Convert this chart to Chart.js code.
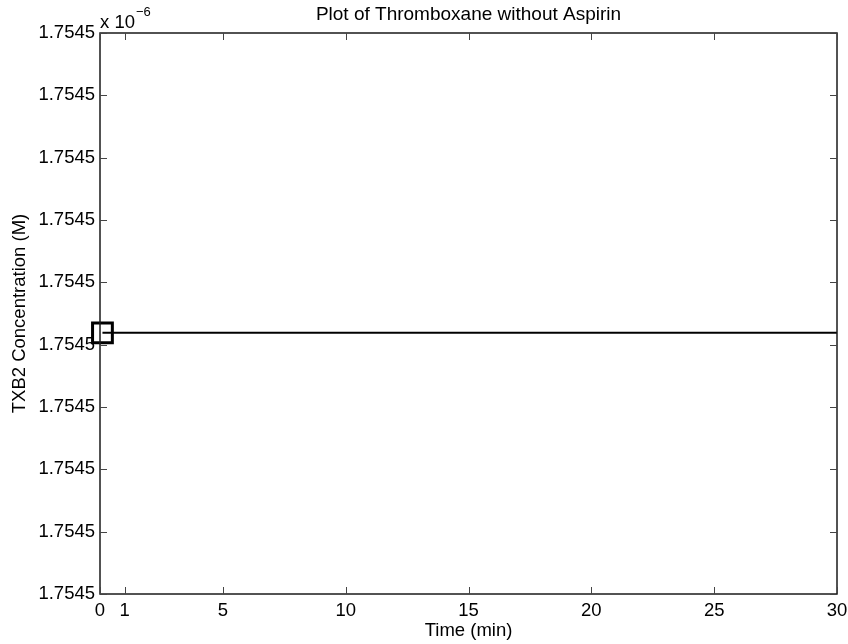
<!DOCTYPE html>
<html lang="en">
<head>
    <meta charset="UTF-8">
    <title>Plot of Thromboxane without Aspirin</title>
    <style>
        body { margin: 0; background: white; }
        #wrap { width: 848px; height: 644px; }
    </style>
    <script src="https://cdn.jsdelivr.net/npm/chart.js"></script>
</head>
<body>
    <div id="wrap"><canvas id="myChart" width="848" height="644"></canvas></div>
    <script>
        // data (y in tick steps above the lowest tick)
        const timeMin = [0.1, 30];
        const txb2 = [4.19, 4.19];
        const xTicks = [0, 1, 5, 10, 15, 20, 25, 30];
        const yTickLabels = ['1.7545', '1.7545', '1.7545', '1.7545', '1.7545',
                             '1.7545', '1.7545', '1.7545', '1.7545', '1.7545'];
        const markerRadius = [14, 0];

        const FONT = 'Liberation Sans, Arial, Helvetica, sans-serif';
        const FS = 18.5;

        // MATLAB-like box with inward ticks, title and exponent
        const boxPlugin = {
            id: 'box',
            afterDraw(chart) {
                const ctx = chart.ctx;
                const a = chart.chartArea;
                const xs = chart.scales.x, ys = chart.scales.y;
                ctx.save();
                ctx.strokeStyle = '#1a1a1a';
                ctx.lineWidth = 1.5;
                ctx.strokeRect(a.left, a.top, a.right - a.left, a.bottom - a.top);
                ctx.lineWidth = 1;
                ctx.strokeStyle = '#444';
                ctx.beginPath();
                xTicks.forEach(v => {
                    const px = Math.round(xs.getPixelForValue(v)) + 0.5;
                    ctx.moveTo(px, a.bottom); ctx.lineTo(px, a.bottom - 7);
                    ctx.moveTo(px, a.top); ctx.lineTo(px, a.top + 7);
                });
                yTickLabels.forEach((_, i) => {
                    const py = Math.round(ys.getPixelForValue(i)) + 0.5;
                    ctx.moveTo(a.left, py); ctx.lineTo(a.left + 7, py);
                    ctx.moveTo(a.right, py); ctx.lineTo(a.right - 7, py);
                });
                ctx.stroke();

                ctx.fillStyle = '#000';
                ctx.textBaseline = 'alphabetic';
                ctx.textAlign = 'center';
                ctx.font = '19px ' + FONT;
                ctx.fillText('Plot of Thromboxane without Aspirin', (a.left + a.right) / 2, 20);
                ctx.textAlign = 'left';
                ctx.font = FS + 'px ' + FONT;
                ctx.fillText('x 10', a.left, 28);
                const w = ctx.measureText('x 10').width;
                ctx.font = '13px ' + FONT;
                ctx.fillText('\u22126', a.left + w + 1, 16);
                ctx.restore();
            }
        };

        const ctx = document.getElementById('myChart').getContext('2d');
        const myChart = new Chart(ctx, {
            type: 'line',
            data: {
                datasets: [{
                    label: 'TXB2',
                    data: timeMin.map((t, i) => ({ x: t, y: txb2[i] })),
                    borderColor: '#000',
                    borderWidth: 2,
                    pointStyle: 'rect',
                    pointRadius: markerRadius,
                    pointBorderWidth: 3,
                    pointBorderColor: '#000',
                    pointBackgroundColor: 'rgba(0,0,0,0)',
                    tension: 0,
                    clip: false
                }]
            },
            options: {
                responsive: false,
                animation: false,
                layout: { autoPadding: false, padding: { top: 33, right: 11, left: 0, bottom: 0 } },
                plugins: {
                    legend: { display: false },
                    tooltip: { enabled: false }
                },
                scales: {
                    x: {
                        type: 'linear',
                        min: 0,
                        max: 30,
                        afterBuildTicks: s => { s.ticks = xTicks.map(v => ({ value: v })); },
                        afterFit: s => { s.height = 50; s.paddingLeft = 0; s.paddingRight = 0; },
                        grid: { display: false, drawTicks: false },
                        border: { display: false },
                        ticks: {
                            color: '#000',
                            padding: 6,
                            maxRotation: 0,
                            autoSkip: false,
                            font: { family: FONT, size: FS }
                        },
                        title: {
                            display: true,
                            text: 'Time (min)',
                            color: '#000',
                            padding: { top: 0, bottom: 2 },
                            font: { family: FONT, size: FS }
                        }
                    },
                    y: {
                        type: 'linear',
                        min: 0,
                        max: 9,
                        afterBuildTicks: s => { s.ticks = yTickLabels.map((_, i) => ({ value: i })); },
                        afterFit: s => { s.width = 100; s.paddingTop = 0; s.paddingBottom = 0; },
                        grid: { display: false, drawTicks: false },
                        border: { display: false },
                        ticks: {
                            color: '#000',
                            padding: 5,
                            autoSkip: false,
                            callback: (v, i) => yTickLabels[i],
                            font: { family: FONT, size: FS }
                        },
                        title: {
                            display: true,
                            text: 'TXB2 Concentration (M)',
                            color: '#000',
                            padding: { top: 9, bottom: 0 },
                            font: { family: FONT, size: FS }
                        }
                    }
                }
            },
            plugins: [boxPlugin]
        });
    </script>
</body>
</html>
